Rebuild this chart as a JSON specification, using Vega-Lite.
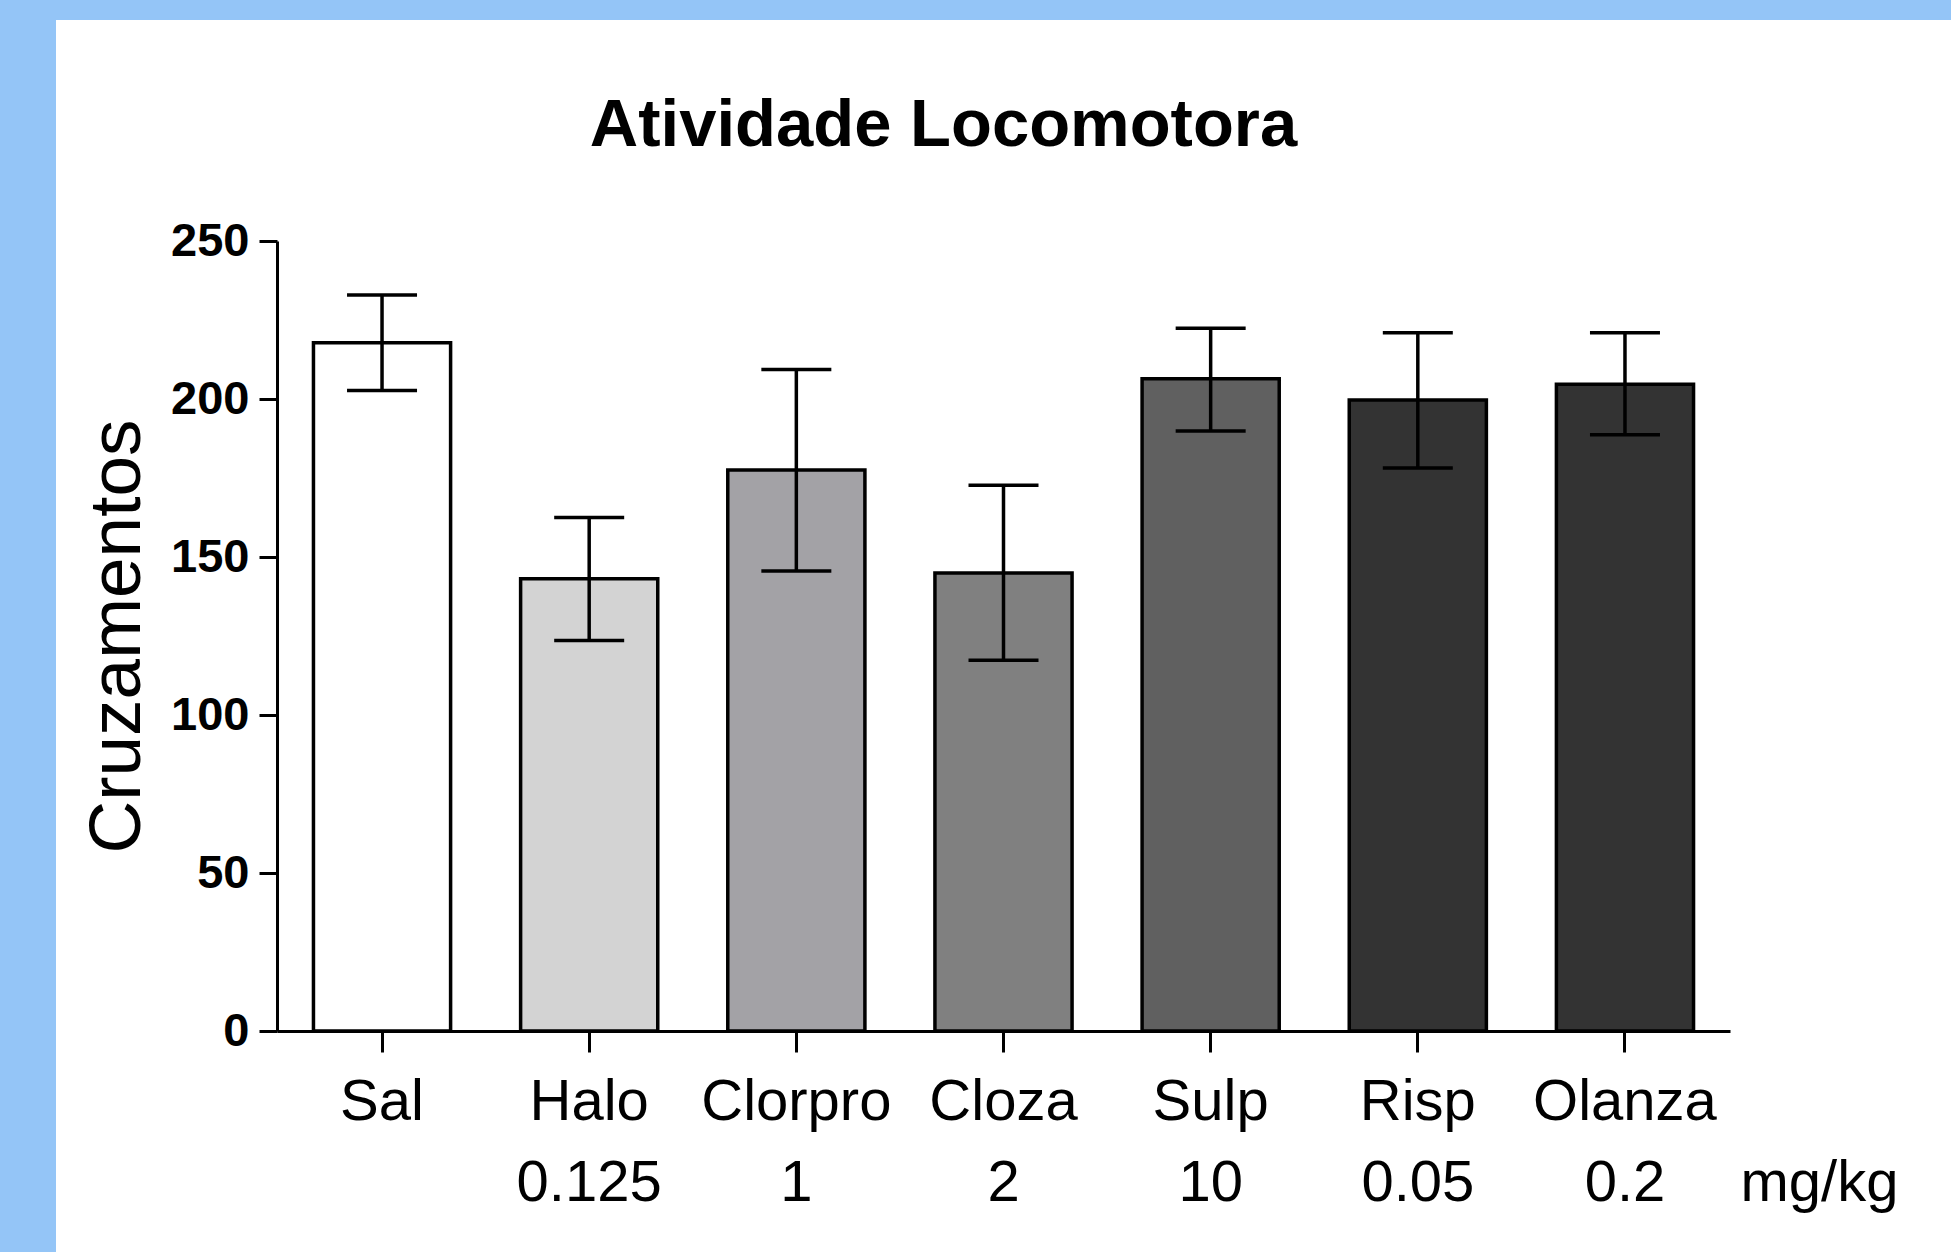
{
  "$schema": "https://vega.github.io/schema/vega-lite/v6.json",
  "width": 1453,
  "height": 790,
  "autosize": {"type": "none"},
  "padding": {"left": 277, "top": 241, "right": 221, "bottom": 221},
  "background": "#94c5f7",
  "config": {
    "view": {"fill": "white", "stroke": "white", "strokeWidth": 442},
    "font": "Liberation Sans, Arial, sans-serif"
  },
  "title": {
    "text": "Atividade Locomotora",
    "font": "Liberation Sans, Arial, sans-serif",
    "fontSize": 67,
    "fontWeight": "bold",
    "color": "black",
    "anchor": "middle",
    "frame": "group",
    "dx": -60,
    "dy": 62,
    "offset": 66,
    "baseline": "alphabetic"
  },
  "data": {
    "values": [
      {"grupo": "Sal", "media": 217.8, "inf": 202.7, "sup": 232.9},
      {"grupo": "Halo 0.125", "media": 143.1, "inf": 123.6, "sup": 162.5},
      {"grupo": "Clorpro 1", "media": 177.5, "inf": 145.6, "sup": 209.3},
      {"grupo": "Cloza 2", "media": 144.9, "inf": 117.3, "sup": 172.7},
      {"grupo": "Sulp 10", "media": 206.4, "inf": 189.9, "sup": 222.4},
      {"grupo": "Risp 0.05", "media": 199.7, "inf": 178.2, "sup": 221.0},
      {"grupo": "Olanza 0.2", "media": 204.7, "inf": 188.7, "sup": 221.0}
    ]
  },
  "encoding": {
    "x": {
      "field": "grupo",
      "type": "nominal",
      "sort": null,
      "scale": {"paddingInner": 0.338, "paddingOuter": 0.176},
      "axis": {
        "title": "mg/kg",
        "titleX": 1463,
        "titleY": 169,
        "titleAlign": "left",
        "titleAnchor": null,
        "titleBaseline": "alphabetic",
        "titleFont": "Liberation Sans, Arial, sans-serif",
        "titleFontSize": 58,
        "titleFontWeight": "normal",
        "titleColor": "black",
        "labelExpr": "split(datum.label, ' ')",
        "labelAngle": 0,
        "labelFont": "Liberation Sans, Arial, sans-serif",
        "labelFontSize": 58,
        "labelColor": "black",
        "labelLineHeight": 81,
        "labelPadding": 21,
        "labelBaseline": "top",
        "labelOverlap": false,
        "labelBound": false,
        "labelFlush": false,
        "labelLimit": 0,
        "tickSize": 21,
        "tickWidth": 3,
        "tickColor": "black",
        "domainColor": "black",
        "domainWidth": 3
      }
    }
  },
  "layer": [
    {
      "mark": {"type": "bar", "stroke": "black", "strokeWidth": 3.5},
      "encoding": {
        "y": {
          "field": "media",
          "type": "quantitative",
          "title": "Cruzamentos",
          "scale": {"domain": [0, 250], "nice": false},
          "axis": {
            "title": "Cruzamentos",
            "titleFont": "Liberation Sans, Arial, sans-serif",
            "titleFontSize": 73,
            "titleFontWeight": "normal",
            "titleColor": "black",
            "titleAngle": -90,
            "titleX": -138,
            "titleBaseline": "alphabetic",
            "values": [0, 50, 100, 150, 200, 250],
            "labelFont": "Liberation Sans, Arial, sans-serif",
            "labelFontSize": 47,
            "labelFontWeight": "bold",
            "labelColor": "black",
            "labelPadding": 10,
            "tickSize": 18,
            "tickWidth": 3,
            "tickColor": "black",
            "domainColor": "black",
            "domainWidth": 3,
            "grid": false
          }
        },
        "fill": {
          "field": "grupo",
          "type": "nominal",
          "sort": null,
          "scale": {
            "domain": ["Sal", "Halo 0.125", "Clorpro 1", "Cloza 2", "Sulp 10", "Risp 0.05", "Olanza 0.2"],
            "range": ["#ffffff", "#d3d3d3", "#a3a2a6", "#808080", "#606060", "#333333", "#333333"]
          },
          "legend": null
        }
      }
    },
    {
      "mark": {"type": "rule", "color": "black", "strokeWidth": 3.5},
      "encoding": {
        "y": {"field": "inf", "type": "quantitative", "title": "Cruzamentos"},
        "y2": {"field": "sup"}
      }
    },
    {
      "mark": {"type": "tick", "color": "black", "size": 70, "thickness": 3.5, "opacity": 1},
      "encoding": {
        "y": {"field": "inf", "type": "quantitative", "title": "Cruzamentos"}
      }
    },
    {
      "mark": {"type": "tick", "color": "black", "size": 70, "thickness": 3.5, "opacity": 1},
      "encoding": {
        "y": {"field": "sup", "type": "quantitative", "title": "Cruzamentos"}
      }
    }
  ]
}
